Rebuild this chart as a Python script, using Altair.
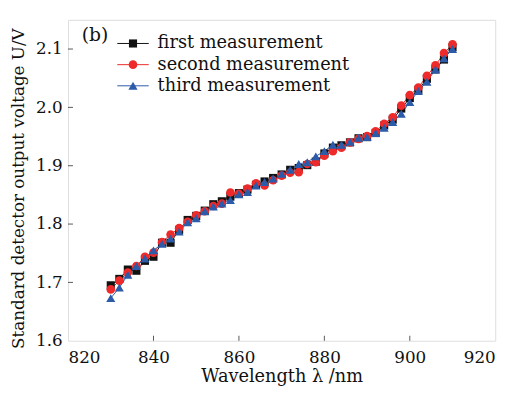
import altair as alt
import pandas as pd

wavelength = [830, 832, 834, 836, 838, 840, 842, 844, 846, 848, 850, 852, 854, 856,
              858, 860, 862, 864, 866, 868, 870, 872, 874, 876, 878, 880, 882, 884,
              886, 888, 890, 892, 894, 896, 898, 900, 902, 904, 906, 908, 910]
first = [1.695, 1.706, 1.722, 1.720, 1.737, 1.744, 1.768, 1.768, 1.790, 1.807, 1.814,
         1.823, 1.834, 1.839, 1.847, 1.853, 1.859, 1.867, 1.873, 1.879, 1.885, 1.893,
         1.896, 1.901, 1.907, 1.921, 1.931, 1.935, 1.940, 1.947, 1.949, 1.956, 1.969,
         1.979, 1.998, 2.016, 2.030, 2.049, 2.065, 2.082, 2.103]
second = [1.688, 1.703, 1.717, 1.728, 1.744, 1.751, 1.769, 1.782, 1.793, 1.804, 1.815,
          1.822, 1.831, 1.835, 1.854, 1.852, 1.861, 1.870, 1.866, 1.875, 1.883, 1.888,
          1.889, 1.903, 1.906, 1.917, 1.925, 1.931, 1.940, 1.946, 1.951, 1.959, 1.972,
          1.983, 2.003, 2.021, 2.034, 2.054, 2.072, 2.093, 2.108]
third = [1.673, 1.691, 1.713, 1.728, 1.741, 1.755, 1.766, 1.775, 1.787, 1.803, 1.810,
         1.822, 1.830, 1.835, 1.841, 1.851, 1.855, 1.866, 1.872, 1.878, 1.886, 1.893,
         1.903, 1.906, 1.916, 1.925, 1.936, 1.936, 1.941, 1.948, 1.949, 1.956, 1.965,
         1.975, 1.989, 2.009, 2.028, 2.044, 2.065, 2.084, 2.100]

series_names = ["first measurement", "second measurement", "third measurement"]
series_keys = ["s1", "s2", "s3"]
series_colors = ["#111111", "#ee2a2a", "#2b5ba9"]
series_shapes = ["square", "circle", "triangle-up"]
series_sizes = [68, 85, 110]

x_ticks = [820, 840, 860, 880, 900, 920]
y_ticks = [1.6, 1.7, 1.8, 1.9, 2.0, 2.1]

rows = []
for name, key, vals in zip(series_names, series_keys, [first, second, third]):
    for w, v in zip(wavelength, vals):
        rows.append({"wavelength": w, "voltage": v, "series": name, "key": key})
df = pd.DataFrame(rows)

FONT = "DejaVu Serif"

xscale = alt.Scale(domain=[820, 920], nice=False, zero=False)
yscale = alt.Scale(domain=[1.6, 2.15], nice=False, zero=False)

xaxis = alt.Axis(values=x_ticks, format="d", title="Wavelength λ /nm", grid=False,
                 domain=False, ticks=False, tickSize=0, labelPadding=9,
                 labelFont=FONT, labelFontSize=17, labelColor="#111",
                 titleFont=FONT, titleFontSize=18, titleFontWeight="normal",
                 titleColor="#111", titleBaseline="alphabetic", titleY=41)
yaxis = alt.Axis(values=y_ticks, format=".1f", title="Standard detector output voltage U/V",
                 grid=False, domain=False, ticks=False, tickSize=0, labelPadding=6,
                 labelFont=FONT, labelFontSize=17, labelColor="#111",
                 titleFont=FONT, titleFontSize=17, titleFontWeight="normal",
                 titleColor="#111", titleAngle=270, titleBaseline="alphabetic",
                 titleAlign="center", titleX=-45, titleY=171)

legend_common = dict(orient="none", legendX=57, legendY=15, padding=0, rowPadding=3.5,
                     labelFont=FONT, labelFontSize=18, labelColor="#111",
                     labelLimit=400, title=None)

lines = alt.Chart(df).mark_line(strokeWidth=1).encode(
    x=alt.X("wavelength:Q", scale=xscale, axis=xaxis),
    y=alt.Y("voltage:Q", scale=yscale, axis=yaxis),
    stroke=alt.Stroke("series:N",
                      scale=alt.Scale(domain=series_names, range=series_colors),
                      legend=alt.Legend(symbolType="M-2.02,0H2.02", symbolSize=250,
                                        symbolStrokeWidth=1, labelOffset=16,
                                        **legend_common)),
    detail="series:N",
)

point_legend = alt.Legend(symbolSize=60, labelExpr="''", **legend_common)
points = alt.Chart(df).mark_point(filled=True, opacity=1).encode(
    x=alt.X("wavelength:Q", scale=xscale),
    y=alt.Y("voltage:Q", scale=yscale),
    color=alt.Color("key:N", scale=alt.Scale(domain=series_keys, range=series_colors),
                    legend=point_legend),
    shape=alt.Shape("key:N", scale=alt.Scale(domain=series_keys, range=series_shapes),
                    legend=point_legend),
    size=alt.Size("key:N", scale=alt.Scale(domain=series_keys, range=series_sizes),
                  legend=None),
)

xt = pd.DataFrame({"t": x_ticks[1:-1]})
yt = pd.DataFrame({"t": y_ticks[1:]})
xticks = alt.Chart(xt).mark_tick(orient="vertical", size=5, thickness=1, color="#111",
                                 yOffset=-2.5).encode(
    x=alt.X("t:Q", scale=xscale), y=alt.datum(1.6, scale=yscale))
yticks = alt.Chart(yt).mark_tick(orient="horizontal", size=5, thickness=1, color="#111",
                                 xOffset=2.5).encode(
    y=alt.Y("t:Q", scale=yscale), x=alt.datum(820, scale=xscale))

chart = alt.layer(lines, points, xticks, yticks).properties(
    width=434, height=326,
    title=alt.TitleParams("(b)", anchor="start", frame="group", baseline="top",
                          offset=0, dx=14, dy=25, font=FONT, fontSize=19,
                          fontWeight="normal", color="#111"),
    autosize=alt.AutoSizeParams(type="none"),
    padding={"left": 61, "top": 9, "right": 15, "bottom": 47},
).configure_view(
    stroke="#111", strokeWidth=1.3
).configure(background="white")

chart.save("out.html", embed_options={"renderer": "svg", "actions": False})
